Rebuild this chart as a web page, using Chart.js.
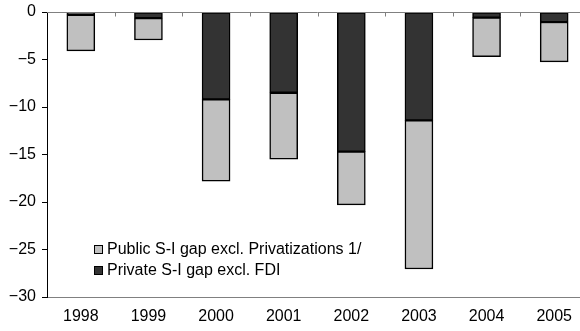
<!DOCTYPE html>
<html>
<head>
<meta charset="utf-8">
<script src="https://cdn.jsdelivr.net/npm/chart.js@4.4.1/dist/chart.umd.min.js"></script>
<style>
  html, body { margin: 0; padding: 0; background: #fff; overflow: hidden; }
  #wrap { width: 590px; height: 331px; position: relative; }
</style>
</head>
<body>
<div id="wrap"><canvas id="c"></canvas></div>
<script>
// Saving-investment gaps, % of GDP
const years = ['1998', '1999', '2000', '2001', '2002', '2003', '2004', '2005'];
const privateGap = [-0.3, -0.65, -9.2, -8.5, -14.7, -11.4, -0.6, -1.05];
const publicGap = [-3.8, -2.3, -8.6, -7.0, -5.6, -15.65, -4.1, -4.2];
const yTicks = [0, -5, -10, -15, -20, -25, -30];

const FONT = "'Liberation Sans', Arial, sans-serif";

// Zero line with category boundary ticks hanging below it
const zeroLine = {
  id: 'zeroLine',
  afterDatasetsDraw(chart) {
    const { ctx, chartArea, scales } = chart;
    const y0 = Math.round(scales.y.getPixelForValue(0)) + 0.5;
    ctx.save();
    ctx.strokeStyle = '#808080';
    ctx.lineWidth = 1;
    ctx.beginPath();
    ctx.moveTo(chartArea.left, y0);
    ctx.lineTo(chartArea.right, y0);
    const n = years.length;
    for (let i = 1; i < n; i++) {
      const x = Math.round((scales.x.getPixelForValue(i - 1) + scales.x.getPixelForValue(i)) / 2) + 0.5;
      ctx.moveTo(x, y0);
      ctx.lineTo(x, y0 + 4);
    }
    ctx.stroke();
    ctx.restore();
  }
};

// Legend drawn inside the plot, lower left
const innerLegend = {
  id: 'innerLegend',
  afterDraw(chart) {
    const { ctx, chartArea } = chart;
    const items = chart.data.datasets.slice().reverse();
    const x = chartArea.left + 47;
    let y = chartArea.top + 237;
    ctx.save();
    ctx.font = '16px ' + FONT;
    ctx.textBaseline = 'middle';
    items.forEach(ds => {
      ctx.fillStyle = ds.backgroundColor;
      ctx.fillRect(x, y - 4, 9, 9);
      ctx.strokeStyle = '#000';
      ctx.lineWidth = 1;
      ctx.strokeRect(x + 0.5, y - 3.5, 8, 8);
      ctx.fillStyle = '#000';
      ctx.fillText(ds.label, x + 13, y + 1);
      y += 21;
    });
    ctx.restore();
  }
};

new Chart(document.getElementById('c'), {
  type: 'bar',
  data: {
    labels: years,
    datasets: [
      {
        label: 'Private S-I gap excl. FDI',
        data: privateGap,
        backgroundColor: '#333333',
        borderColor: '#000000',
        borderWidth: 1.5,
        borderSkipped: false,
        barThickness: 28
      },
      {
        label: 'Public S-I gap excl. Privatizations 1/',
        data: publicGap,
        backgroundColor: '#c0c0c0',
        borderColor: '#000000',
        borderWidth: 1.5,
        borderSkipped: false,
        barThickness: 28
      }
    ]
  },
  options: {
    responsive: true,
    maintainAspectRatio: false,
    animation: false,
    layout: { padding: { top: 12, right: 2, bottom: 0, left: 0 } },
    plugins: { legend: { display: false }, tooltip: { enabled: false } },
    scales: {
      x: {
        stacked: true,
        grid: { display: false, drawTicks: false },
        border: { display: true, color: '#808080', width: 1 },
        ticks: { color: '#000', font: { family: FONT, size: 16 }, padding: 10, maxRotation: 0 },
        afterFit(scale) { scale.height = 34; scale.paddingLeft = 0; scale.paddingRight = 0; }
      },
      y: {
        stacked: true,
        min: -30,
        max: 0,
        afterBuildTicks(scale) { scale.ticks = yTicks.map(v => ({ value: v })); },
        grid: { drawOnChartArea: false, drawTicks: true, tickLength: 5, color: '#000' },
        border: { display: true, color: '#000', width: 1 },
        ticks: {
          color: '#000',
          font: { family: FONT, size: 16 },
          padding: 6,
          callback: v => (v < 0 ? '\u2212' + Math.abs(v) : String(v))
        },
        afterFit(scale) { scale.width = 47; scale.paddingTop = 0; scale.paddingBottom = 0; }
      }
    }
  },
  plugins: [zeroLine, innerLegend]
});
</script>
</body>
</html>
